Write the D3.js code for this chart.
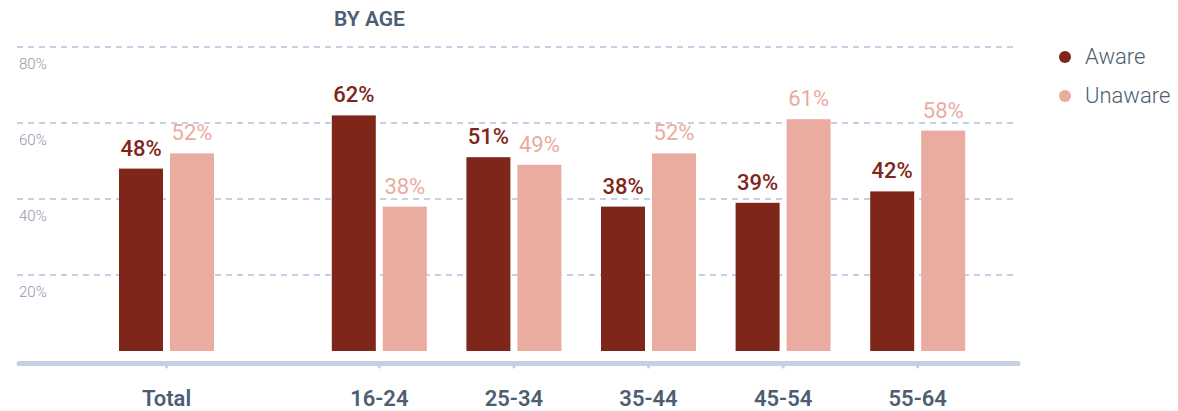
<!DOCTYPE html>
<html>
<head>
<meta charset="utf-8">
<script src="https://cdn.jsdelivr.net/npm/d3@7"></script>
<style>
  html, body { margin: 0; padding: 0; background: #fff; }
  svg { display: block; font-family: Roboto, "Noto Sans", sans-serif; }
</style>
</head>
<body>
<svg id="chart" width="1178" height="411"></svg>
<script>
const totalCategories = ["Total"];
const ageCategories = ["16-24", "25-34", "35-44", "45-54", "55-64"];
const seriesNames = ["Aware", "Unaware"];
const awareTotal = [48];
const unawareTotal = [52];
const awareByAge = [62, 51, 38, 39, 42];
const unawareByAge = [38, 49, 52, 61, 58];
const yTicks = [20, 40, 60, 80];
const colors = ["#7f261a", "#eaaba0"];

const svg = d3.select("#chart");

const y = d3.scaleLinear().domain([0, 80]).range([351, 47]);
const xTotal = d3.scaleBand().domain(totalCategories).range([17, 316]);
const xAge = d3.scaleBand().domain(ageCategories).range([312, 985]);
const xSeries = d3.scaleBand().domain(seriesNames).range([0, 95]).paddingInner(7 / 51);
const color = d3.scaleOrdinal().domain(seriesNames).range(colors);

// gridlines
svg.append("g").selectAll("line").data(yTicks).join("line")
  .attr("x1", 17).attr("x2", 1017)
  .attr("y1", d => y(d)).attr("y2", d => y(d))
  .attr("stroke", "#c8d0e8").attr("stroke-width", 2)
  .attr("stroke-dasharray", "6,5");

svg.append("g").selectAll("text").data(yTicks).join("text")
  .attr("x", 19).attr("y", d => y(d) + 22)
  .attr("font-size", 15).attr("font-weight", 300)
  .attr("fill", "#8f97ad")
  .text(d => d + "%");

// title
svg.append("text").attr("x", 334).attr("y", 26)
  .attr("font-size", 21).attr("font-weight", 600)
  .attr("fill", "#4d5e73")
  .text("BY AGE");

// build rows
function rows(cats, aware, unaware, xs) {
  const out = [];
  cats.forEach((c, i) => {
    const cx = xs(c) + xs.bandwidth() / 2 - 47.5;
    out.push({cat: c, s: "Aware", v: aware[i], x: cx + xSeries("Aware")});
    out.push({cat: c, s: "Unaware", v: unaware[i], x: cx + xSeries("Unaware")});
  });
  return out;
}
const data = rows(totalCategories, awareTotal, unawareTotal, xTotal)
  .concat(rows(ageCategories, awareByAge, unawareByAge, xAge));

svg.append("g").selectAll("rect").data(data).join("rect")
  .attr("x", d => d.x).attr("width", xSeries.bandwidth())
  .attr("y", d => y(d.v)).attr("height", d => y(0) - y(d.v))
  .attr("fill", d => color(d.s));

svg.append("g").selectAll("text").data(data).join("text")
  .attr("x", d => d.x + xSeries.bandwidth() / 2)
  .attr("y", d => y(d.v) - 13)
  .attr("text-anchor", "middle")
  .attr("font-size", 22)
  .attr("font-weight", d => d.s === "Aware" ? 500 : 400)
  .attr("fill", d => color(d.s))
  .text(d => d.v + "%");

// axis line
svg.append("line").attr("x1", 19).attr("x2", 1018)
  .attr("y1", 363.5).attr("y2", 363.5)
  .attr("stroke", "#c8cfe5").attr("stroke-width", 5)
  .attr("stroke-linecap", "round");

const catPos = totalCategories.map(c => ({c, x: xTotal(c) + xTotal.bandwidth() / 2}))
  .concat(ageCategories.map(c => ({c, x: xAge(c) + xAge.bandwidth() / 2})));

svg.append("g").selectAll("line").data(catPos).join("line")
  .attr("x1", d => d.x).attr("x2", d => d.x)
  .attr("y1", 364).attr("y2", 367)
  .attr("stroke", "#c8cfe5").attr("stroke-width", 3)
  .attr("stroke-linecap", "round");

svg.append("g").selectAll("text").data(catPos).join("text")
  .attr("x", d => d.x).attr("y", 406)
  .attr("text-anchor", "middle")
  .attr("font-size", 22).attr("font-weight", 600)
  .attr("fill", "#4d5e73")
  .text(d => d.c);

// legend
const leg = svg.append("g").selectAll("g").data(seriesNames).join("g")
  .attr("transform", (d, i) => `translate(1065, ${57 + i * 39})`);
leg.append("circle").attr("r", 6).attr("fill", d => color(d));
leg.append("text").attr("x", 20).attr("y", 7)
  .attr("font-size", 22).attr("font-weight", 300)
  .attr("fill", "#4d5e73")
  .text(d => d);
</script>
</body>
</html>
